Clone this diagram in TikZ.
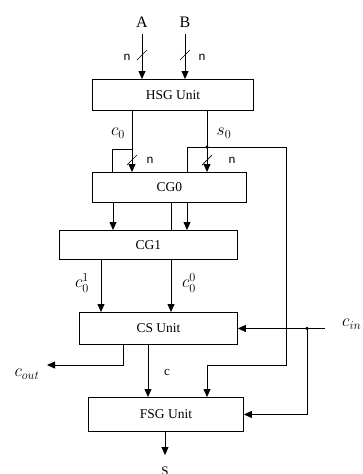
\documentclass[tikz,border=0pt]{standalone}
\usepackage{fix-cm}
\usepackage{fontspec}
\setmainfont{Liberation Serif}
\newfontfamily\nfont{Carlito}
\usetikzlibrary{arrows.meta}
\begin{document}
\begin{tikzpicture}[x=1pt,y=-1pt,
 unitbox/.style={draw, line width=0.9pt, anchor=north west, inner sep=0pt, font=\fontsize{13.5}{16}\selectfont},
 wire/.style={line width=0.8pt},
 arr/.style={wire, -{Triangle[width=7pt,length=8pt]}},
 lbl/.style={inner sep=0pt, font=\fontsize{17.5}{20}\selectfont},
 inlbl/.style={inner sep=0pt, font=\fontsize{16}{19}\selectfont},
 txtlbl/.style={inner sep=0pt, font=\fontsize{13}{15}\selectfont},
 nlbl/.style={inner sep=0pt, font=\nfont\fontsize{13}{15}\selectfont},
 dotn/.style={circle, fill, inner sep=0pt, minimum size=3.5pt},
 slash/.style={line width=0.7pt}]
\path[use as bounding box] (0,0) rectangle (362,474);

% boxes
\node[unitbox, minimum width=161pt, minimum height=31pt] (hsg) at (92,79) {HSG Unit};
\node[unitbox, minimum width=154pt, minimum height=30pt] (cg0) at (92,172) {CG0};
\node[unitbox, minimum width=178pt, minimum height=29pt] (cg1) at (59,230) {CG1};
\node[unitbox, minimum width=158pt, minimum height=32pt] (cs) at (79,312) {CS Unit};
\node[unitbox, minimum width=155pt, minimum height=34pt] (fsg) at (88,397) {FSG Unit};

% inputs A, B
\node[inlbl] (A) at (142,22) {A};
\node[inlbl] (B) at (185,22) {B};
\draw[arr] ([yshift=-7pt]A.south) -- (A.south |- hsg.north);
\draw[arr] ([yshift=-7pt]B.south) -- (B.south |- hsg.north);
\draw[slash] (137,60) -- (147,50);
\draw[slash] (180,60) -- (190,50);
\node[nlbl] (nA) at (127,57) {n};
\node[nlbl] (nB) at (202,57) {n};

% c0 branch
\node[lbl] (c0) at (118,133) {$c_0$};
\draw[arr] (132,0 |- hsg.south) -- (132,0 |- cg0.north);
\coordinate (cj) at (132,149);
\draw[wire] (cj) -| (112,0 |- cg0.north);
\draw[slash] (127,165) -- (137,155);
\node[nlbl] (nc) at (150,160) {n};

% s0 branch
\node[lbl] (s0) at (224,133) {$s_0$};
\draw[arr] (207,0 |- hsg.south) -- (207,0 |- cg0.north);
\node[dotn] (sj) at (207,147) {};
\draw[wire] (sj.center) -| (187,0 |- cg0.north);
\draw[slash] (202,165) -- (212,155);
\node[nlbl] (ns) at (232,160) {n};
\draw[arr] (sj.center) -| (286,365) -| (207,0 |- fsg.north);

% CG0 -> CG1
\draw[arr] (113,0 |- cg0.south) -- (113,0 |- cg1.north);
\draw[wire] (171,0 |- cg0.south) -- (171,0 |- cg1.north);
\draw[arr] (187,0 |- cg0.south) -- (187,0 |- cg1.north);

% CG1 -> CS
\draw[arr] (101,0 |- cg1.south) -- (101,0 |- cs.north);
\draw[arr] (171,0 |- cg1.south) -- (171,0 |- cs.north);
\node[lbl] (c01) at (82,283) {$c_0^1$};
\node[lbl] (c00) at (189,283) {$c_0^0$};

% carry in
\node[lbl, anchor=west] (cin) at (342,324) {$c_{in}$};
\coordinate (cinend) at (325,0 |- cs.east);
\node[dotn] (ij) at (307,0 |- cs.east) {};
\draw[arr] (cinend) -- (cs.east);
\draw[arr] (ij.center) |- (fsg.east);

% CS outputs
\node[lbl] (cout) at (27,374) {$c_{out}$};
\coordinate (coutend) at (47,365);
\draw[arr] (123,0 |- cs.south) |- (coutend);
\draw[arr] (148,0 |- cs.south) -- (148,0 |- fsg.north);
\node[txtlbl] (c) at (167,372) {c};

% FSG output
\coordinate (send) at (165,455);
\draw[arr] (165,0 |- fsg.south) -- (send);
\node[txtlbl] (S) at (165,471) {S};
\end{tikzpicture}
\end{document}
